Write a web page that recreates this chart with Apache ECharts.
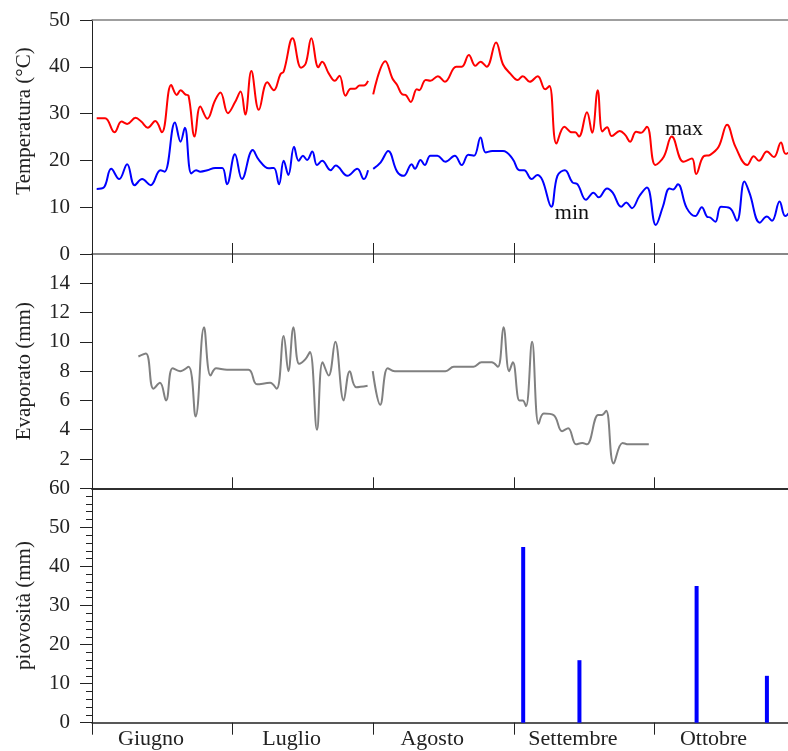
<!DOCTYPE html>
<html>
<head>
<meta charset="utf-8">
<script src="https://cdn.jsdelivr.net/npm/echarts@6/dist/echarts.min.js"></script>
<style>
  html, body { margin: 0; padding: 0; background: #fff; }
  #chart { width: 788px; height: 751px; }
</style>
</head>
<body>
<div id="chart"></div>
<script>
// giorni contati da inizio giugno, 30 giorni per mese sull'asse
const months = ['Giugno', 'Luglio', 'Agosto', 'Settembre', 'Ottobre']

// temperatura massima (null = interruzione della serie)
const tmaxDays = [1, 2.8, 4.8, 6.3, 7.5, 9.3, 10.5, 11.9, 13.5, 14.9, 16.9, 18.1, 18.9, 19.9, 20.6, 21.9, 23.1, 24.6, 26.2, 27.4, 29, 30.5, 31.7, 32.7, 34, 35.6, 37.4, 38.8, 40.2, 40.9, 42.8, 44.6, 45.6, 46.8, 48.3, 49.1, 50.5, 51.8, 52.8, 54.1, 55.2, 56.1, 57.1, 58, 58.9,
  59.5,
  60, 62.6, 64.1, 65.1, 66.2, 66.9, 68, 69.3, 69.8, 71.2, 72.2, 73.8, 75.3, 77.7, 78.9, 80.4, 81.8, 82.9, 84.2, 86.2, 87.7, 89.3, 90.8, 91.9, 93.4, 95.1, 96.7, 97.6, 99.1, 100.8, 102.4, 103.1, 103.9, 105.6, 106.7, 107.9, 108.9, 109.9, 110.9, 112.6, 113.8, 114.8, 116.1, 117.1, 118.4, 120.2, 122, 123.7, 126.2, 128, 128.9, 130.5, 131.9, 133.7, 135.5, 137.3, 139.8, 141.2, 142.3, 144, 145.5, 147, 148, 149.5]
const tmax = [29, 29, 26, 28.3, 27.8, 29.1, 28.3, 27, 28.4, 26, 36.1, 34, 35, 34.1, 33.8, 25.1, 31.5, 28.9, 32.7, 34.5, 30.1, 32.4, 34.7, 29.8, 39.1, 30.8, 36.7, 35, 38.4, 39, 46.1, 39.8, 40.7, 46.1, 39.9, 41.1, 38.6, 37, 38.1, 33.8, 35.3, 35.3, 36, 36, 37,
  null,
  34.1, 41.2, 37.5, 36.1, 34.1, 34, 32.5, 35.2, 35, 37.2, 37, 38, 36.8, 40, 40, 42.5, 40.2, 41.1, 40, 45.2, 40.5, 38.5, 37.2, 38, 36.8, 38, 35.2, 35.9, 23.6, 27.2, 26, 26, 25.1, 30.3, 25.9, 35, 26.2, 27.1, 25.2, 26.3, 25.4, 24, 26.1, 25.9, 27.2, 19, 20.8, 25.1, 19.7, 20.4, 17.1, 20.9, 21.2, 22.9, 27.6, 22.9, 19, 20.9, 19.9, 21.9, 20.7, 23.8, 21.4, 22.5]

// temperatura minima
const tminDays = [1, 2.5, 4.1, 5.8, 7.5, 9.1, 10.7, 12.5, 14.6, 15.5, 17.7, 18.9, 19.8, 21.2, 22.2, 23.1, 24.6, 26.3, 27.8, 28.8, 30.5, 32, 34.3, 35.6, 37.7, 38.8, 39.9, 40.9, 41.9, 43.1, 44.1, 45, 45.9, 47, 48, 49.1, 50.9, 52, 54.5, 56.6, 58, 58.9,
  59.5,
  60, 61.6, 63.2, 65.1, 66.5, 68.2, 68.9, 70.1, 71, 72.2, 73.7, 75.4, 77.4, 78.9, 80.3, 81.5, 82.9, 84, 85.4, 87.7, 89.7, 91.2, 92.2, 93.8, 95, 96.1, 98, 99.3, 100.9, 102.5, 103.6, 105.4, 107, 108.1, 109.9, 111.1, 112.9, 114, 115.2, 116.8, 118.4, 120.3, 121.8, 123.2, 124, 125, 126.9, 128.7, 130.1, 131.2, 131.9, 133, 134.2, 136.1, 137.6, 139.2, 140.3, 142.5, 144, 145.1, 146.7, 147.9, 149.5]
const tmin = [13.9, 14.2, 18.2, 16, 19.2, 14.7, 16, 14.7, 17.9, 17.6, 28.1, 24, 27, 17.2, 17.9, 17.6, 17.9, 18.4, 18.4, 14.9, 21.3, 16, 22.2, 20.1, 18.3, 18.4, 14.9, 19.9, 16.9, 22.9, 19.9, 21, 20.1, 21.9, 19, 19.9, 17.9, 18.9, 16.7, 18.2, 16, 17.9,
  null,
  18.2, 19.6, 22, 17.6, 16.7, 19.2, 18.2, 20.1, 19, 21, 21, 19.7, 21, 19, 21.2, 21, 24.9, 21.7, 22, 22, 20.4, 17.9, 17.9, 16, 16.9, 15.8, 10.1, 16.7, 17.9, 15.3, 14.9, 11.6, 13.1, 12.1, 14, 13.1, 10.1, 11, 9.8, 12.4, 14.2, 6.2, 10.1, 14, 13.8, 14.9, 9.8, 8.1, 10, 8, 7.8, 6.9, 10.1, 9.8, 7.1, 15.5, 13, 6.7, 8, 7.1, 11.2, 8.1, 10]

// evaporato
const evapDays = [9.9, 11.5, 13.1, 14.5, 15.8, 17.2, 18.8, 20.6, 22.1, 23.9, 25.3, 26.5, 28.8, 33.4, 35.2, 38, 39.4, 40.9, 41.9, 43, 44.2, 45.5, 46.5, 48, 49.2, 50.5, 51.9, 53.7, 55, 56.4, 58.8,
  59.4,
  59.9, 61.5, 63.1, 64.6, 75.4, 77.2, 81.4, 83.1, 85.3, 86.6, 87.8, 89, 89.8, 91.2, 91.9, 92.6, 93.9, 95.3, 96.4, 98.5, 100.3, 101.6, 103.3, 104.6, 105.6, 108, 108.8, 109.7, 111.3, 113.2, 114.5, 118.8]
const evap = [9, 9.2, 6.8, 7.2, 6, 8.2, 8, 8.3, 4.9, 11, 7.7, 8.2, 8.1, 8.1, 7.1, 7.2, 6.8, 10.4, 8, 11, 8.5, 8.8, 9.3, 4, 8.6, 7.7, 10, 6, 8, 6.9, 7,
  null,
  8, 5.7, 8.2, 8, 8, 8.3, 8.3, 8.6, 8.6, 8.3, 11, 8, 8.6, 6, 6, 5.6, 10, 4.4, 5.1, 5, 3.9, 4.1, 3, 3.1, 3, 5, 5, 5.3, 1.7, 3.1, 3, 3]

// piovosità
const rainDays = [92, 104, 129, 144]
const rain = [45, 16, 35, 12]

const pairs = (xs, ys) => xs.map((x, i) => [x, ys[i]])

const font = 'Liberation Serif'
const dark = '#222'
const grey = '#808080'
const labelShift = 12.6
// l'immagine è tagliata prima della fine di ottobre
const dayMax = 148.5
const monthStarts = months.map((m, i) => i * 30)

const chart = echarts.init(document.getElementById('chart'))

const yBase = {
  type: 'value',
  axisLine: { show: true, lineStyle: { color: dark, width: 1 } },
  axisTick: { show: true, length: 12, lineStyle: { color: dark } },
  axisLabel: { color: dark, fontFamily: font, fontSize: 21, margin: 22 },
  splitLine: { show: false },
  nameLocation: 'middle',
  nameGap: 57,
  nameTextStyle: { color: dark, fontFamily: font, fontSize: 21 }
}

const xBase = (grid, position, color, tick) => ({
  type: 'value',
  gridIndex: grid,
  position: position,
  min: 0,
  max: dayMax,
  interval: 30,
  axisLine: { show: true, onZero: false, lineStyle: { color: color, width: 1.5 } },
  axisTick: Object.assign({ customValues: monthStarts }, tick),
  axisLabel: { show: false },
  splitLine: { show: false }
})

const option = {
  animation: false,
  backgroundColor: '#fff',
  grid: [
    { left: 92, right: 0, top: 20, height: 234 },
    { left: 92, right: 0, top: 254, height: 234.3 },
    { left: 92, right: 0, top: 488.3, height: 234.4 }
  ],
  xAxis: [
    xBase(0, 'bottom', grey, { show: true, inside: true, length: 11, lineStyle: { color: dark } }),
    xBase(0, 'top', grey, { show: false }),
    xBase(1, 'bottom', dark, { show: true, inside: true, length: 11, lineStyle: { color: dark } }),
    xBase(1, 'top', grey, { show: true, inside: true, length: 9, lineStyle: { color: dark } }),
    Object.assign(xBase(2, 'bottom', dark, { show: true, inside: false, length: 12, lineStyle: { color: dark } }), {
      axisLabel: {
        show: true,
        customValues: monthStarts.map(d => d + labelShift),
        formatter: v => months[Math.floor(v / 30)],
        color: dark,
        fontFamily: font,
        fontSize: 22,
        margin: 6
      }
    }),
    xBase(2, 'top', dark, { show: false })
  ],
  yAxis: [
    Object.assign({}, yBase, {
      gridIndex: 0, min: 0, max: 50, interval: 10,
      name: 'Temperatura (°C)',
      nameTextStyle: Object.assign({}, yBase.nameTextStyle, { padding: [0, 0, 0, 32] })
    }),
    Object.assign({}, yBase, {
      gridIndex: 1, min: 0, max: 16, interval: 2,
      name: 'Evaporato (mm)',
      axisLabel: Object.assign({}, yBase.axisLabel, { showMinLabel: false, showMaxLabel: false })
    }),
    Object.assign({}, yBase, {
      gridIndex: 2, min: 0, max: 60, interval: 10,
      name: 'piovosità (mm)',
      minorTick: { show: true, splitNumber: 5, length: 6, lineStyle: { color: dark } }
    })
  ],
  series: [
    {
      name: 'max',
      type: 'line',
      xAxisIndex: 0,
      yAxisIndex: 0,
      data: pairs(tmaxDays, tmax),
      smooth: 0.4,
      showSymbol: false,
      lineStyle: { color: '#ff0000', width: 2 },
      markPoint: {
        symbol: 'circle',
        symbolSize: 1,
        itemStyle: { color: 'transparent' },
        label: { show: true, position: 'inside', color: '#111', fontFamily: font, fontSize: 22 },
        data: [{ coord: [126.3, 26.7], value: 'max' }]
      }
    },
    {
      name: 'min',
      type: 'line',
      xAxisIndex: 0,
      yAxisIndex: 0,
      data: pairs(tminDays, tmin),
      smooth: 0.4,
      showSymbol: false,
      lineStyle: { color: '#0000ff', width: 2 },
      markPoint: {
        symbol: 'circle',
        symbolSize: 1,
        itemStyle: { color: 'transparent' },
        label: { show: true, position: 'inside', color: '#111', fontFamily: font, fontSize: 22 },
        data: [{ coord: [102.4, 8.8], value: 'min' }]
      }
    },
    {
      name: 'Evaporato',
      type: 'line',
      xAxisIndex: 2,
      yAxisIndex: 1,
      data: pairs(evapDays, evap),
      smooth: 0.4,
      showSymbol: false,
      lineStyle: { color: '#808080', width: 2 }
    },
    {
      name: 'piovosità',
      type: 'bar',
      xAxisIndex: 4,
      yAxisIndex: 2,
      data: pairs(rainDays, rain),
      barWidth: 4,
      itemStyle: { color: '#0000ff' }
    }
  ]
}

chart.setOption(option)
</script>
</body>
</html>
